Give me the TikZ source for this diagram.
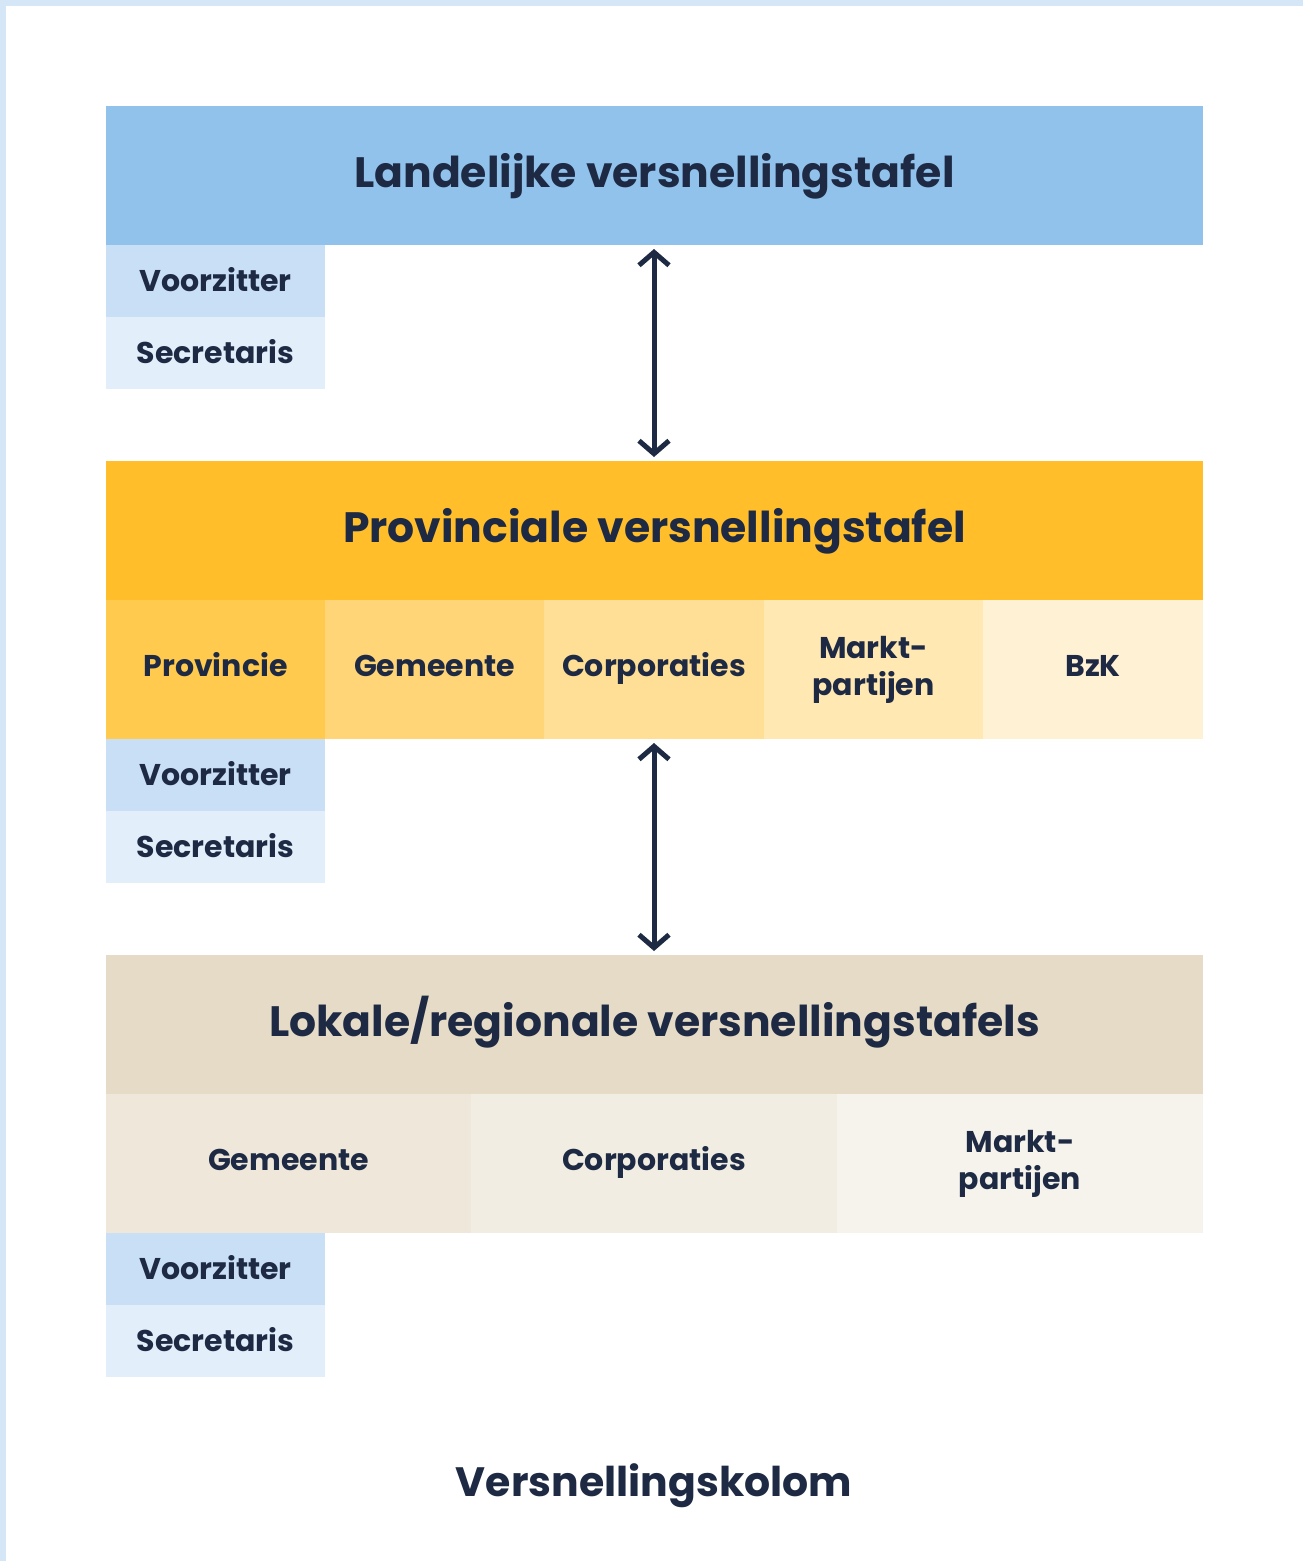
\documentclass[tikz,border=0pt]{standalone}
\usepackage{fontspec}
\setmainfont{Poppins}
\usetikzlibrary{arrows.meta}
\definecolor{navy}{HTML}{1E2A44}
\definecolor{edge}{HTML}{D5E6F7}
\definecolor{cLand}{HTML}{90C2EC}
\definecolor{cVoor}{HTML}{C8DFF5}
\definecolor{cSecr}{HTML}{E2EFFA}
\definecolor{cProv}{HTML}{FFBE2A}
\definecolor{pA}{HTML}{FFCA4D}
\definecolor{pB}{HTML}{FFD577}
\definecolor{pC}{HTML}{FFDF95}
\definecolor{pD}{HTML}{FFE8B2}
\definecolor{pE}{HTML}{FFF1D4}
\definecolor{cLok}{HTML}{E5DBC6}
\definecolor{lA}{HTML}{EEE7DA}
\definecolor{lB}{HTML}{F1EDE2}
\definecolor{lC}{HTML}{F5F3EC}
\tikzset{
  box/.style={fill=#1, draw=none, inner sep=0pt, outer sep=0pt, anchor=north west, text=navy, align=center},
  titlefont/.style={font=\fontsize{42.5}{48}\selectfont\bfseries, text height=33pt, text depth=9pt},
  cellfont/.style={font=\fontsize{30}{37}\selectfont\bfseries},
  oneline/.style={text height=27pt, text depth=6pt},
  rowline/.style={text height=19pt, text depth=6pt},
  link/.style={draw=navy, line width=5pt, {Straight Barb[length=13pt,width=30pt,line width=5pt]}-{Straight Barb[length=13pt,width=30pt,line width=5pt]}}
}
\begin{document}
\begin{tikzpicture}[x=1pt,y=-1pt]
\useasboundingbox (0,0) rectangle (1303,1561);
\fill[white] (0,0) rectangle (1303,1561);
\fill[edge] (0,0) rectangle (1303,6);
\fill[edge] (0,0) rectangle (6,1561);
% Landelijke
\node[box=cLand, titlefont, minimum width=1097pt, minimum height=139pt] (land) at (106,106) {Landelijke versnellingstafel};
\node[box=cVoor, cellfont, oneline, minimum width=219pt, minimum height=72pt] (v1) at (106,245) {Voorzitter};
\node[box=cSecr, cellfont, oneline, minimum width=219pt, minimum height=72pt] (s1) at (106,317) {Secretaris};
% Provinciale
\node[box=cProv, titlefont, minimum width=1097pt, minimum height=139pt] (prov) at (106,461) {Provinciale versnellingstafel};
\node[box=pA, cellfont, rowline, minimum width=219pt, minimum height=139pt] (p1) at (106,600) {Provincie};
\node[box=pB, cellfont, rowline, minimum width=219pt, minimum height=139pt] (p2) at (325,600) {Gemeente};
\node[box=pC, cellfont, rowline, minimum width=220pt, minimum height=139pt] (p3) at (544,600) {Corporaties};
\node[box=pD, cellfont, minimum width=219pt, minimum height=139pt] (p4) at (764,600) {Markt-\\partijen};
\node[box=pE, cellfont, rowline, minimum width=220pt, minimum height=139pt] (p5) at (983,600) {BzK};
\node[box=cVoor, cellfont, oneline, minimum width=219pt, minimum height=72pt] (v2) at (106,739) {Voorzitter};
\node[box=cSecr, cellfont, oneline, minimum width=219pt, minimum height=72pt] (s2) at (106,811) {Secretaris};
% Lokale
\node[box=cLok, titlefont, minimum width=1097pt, minimum height=139pt] (lok) at (106,955) {Lokale/regionale versnellingstafels};
\node[box=lA, cellfont, rowline, minimum width=365pt, minimum height=139pt] (l1) at (106,1094) {Gemeente};
\node[box=lB, cellfont, rowline, minimum width=366pt, minimum height=139pt] (l2) at (471,1094) {Corporaties};
\node[box=lC, cellfont, minimum width=366pt, minimum height=139pt] (l3) at (837,1094) {Markt-\\partijen};
\node[box=cVoor, cellfont, oneline, minimum width=219pt, minimum height=72pt] (v3) at (106,1233) {Voorzitter};
\node[box=cSecr, cellfont, oneline, minimum width=219pt, minimum height=72pt] (s3) at (106,1305) {Secretaris};
% arrows
\coordinate (a1) at (654,249);
\coordinate (b1) at (654,457);
\coordinate (a2) at (654,743);
\coordinate (b2) at (654,951);
\draw[link] (a1) -- (b1);
\draw[link] (a2) -- (b2);
% footer
\node[text=navy, font=\fontsize{41}{46}\selectfont\bfseries, text height=37pt, text depth=9pt, inner sep=0pt] (foot) at (654,1482) {Versnellingskolom};
\end{tikzpicture}
\end{document}
